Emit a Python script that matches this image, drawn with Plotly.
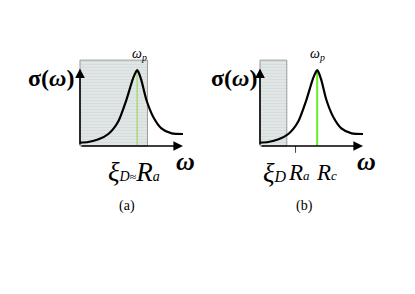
import plotly.graph_objects as go

# ---- data (x in arbitrary frequency units, y normalised) ----
curve_x = [0.0, 0.8, 1.8, 2.75, 3.7, 4.5, 5.15, 5.45, 5.55, 5.65, 5.95, 6.45, 7.1, 7.9, 8.9, 10.0]
curve_y = [0.045, 0.053, 0.088, 0.158, 0.32, 0.605, 0.89, 0.98, 1.0, 0.98, 0.87, 0.605, 0.386, 0.233, 0.167, 0.158]
peak_x = 5.55
shade_end = {"a": 6.55, "b": 2.6}
shade_top = 1.13
tick_Ra_b = 3.45
panel_labels = ["(a)", "(b)"]

FONT = "Liberation Serif, DejaVu Serif, serif"
W, H = 415, 294
fig = go.Figure()


def px(xp, yp):
    return xp / W, 1 - yp / H


def text(xp, yp, t, size, **kw):
    x, y = px(xp, yp)
    fig.add_annotation(x=x, y=y, xref="paper", yref="paper", showarrow=False, text=t,
                       xanchor="center", yanchor="middle",
                       font=dict(family=FONT, size=size, color="black"), **kw)


panels = [("a", "x", "y", [0.18036, 0.45337]), ("b", "x2", "y2", [0.6141, 0.8871])]
for key, xa, ya, dom in panels:
    # shaded region
    fig.add_trace(go.Scatter(
        x=[0, shade_end[key], shade_end[key], 0, 0], y=[0, 0, shade_top, shade_top, 0],
        fill="toself", mode="lines", line=dict(color="#9a9a9a", width=1),
        fillcolor="#dde2e2",
        fillpattern=dict(shape="-", bgcolor="#e0e5e5", fgcolor="#cdd3d3", size=3, solidity=0.3),
        xaxis=xa, yaxis=ya, showlegend=False, hoverinfo="skip"))
    # green line at peak
    fig.add_trace(go.Scatter(
        x=[peak_x, peak_x], y=[0, 1.0], mode="lines",
        line=dict(color="#a8dc80" if key == "a" else "#66ee22", width=1.6 if key == "a" else 2),
        xaxis=xa, yaxis=ya, showlegend=False, hoverinfo="skip"))
    # curve
    fig.add_trace(go.Scatter(
        x=curve_x, y=curve_y, mode="lines", line=dict(color="black", width=2.2, shape="spline", smoothing=0.7),
        xaxis=xa, yaxis=ya, showlegend=False, hoverinfo="skip"))
    # axes arrows
    for (x1, y1) in [(10.0, 0), (0, 1.02)]:
        fig.add_annotation(x=x1, y=y1, ax=0, ay=0, xref=xa, yref=ya, axref=xa, ayref=ya,
                           text="", showarrow=True, arrowhead=2, arrowsize=1.2, arrowwidth=1.6,
                           arrowcolor="black")
    fig.update_layout(**{
        ("xaxis" if xa == "x" else "xaxis2"): dict(domain=dom, range=[-0.5, 10.5], visible=False, fixedrange=True),
        ("yaxis" if ya == "y" else "yaxis2"): dict(domain=[0.4646, 0.8265], range=[-0.15, 1.25], visible=False, fixedrange=True),
    })

# tick for R_a in panel b
fig.add_trace(go.Scatter(x=[tick_Ra_b, tick_Ra_b], y=[0, -0.09], mode="lines",
                         line=dict(color="#444", width=1), xaxis="x2", yaxis="y2",
                         showlegend=False, hoverinfo="skip"))

# labels (pixel positions of label centres)
for cx in (51, 234):
    text(cx, 78, "<b>σ(<i>ω</i>)</b>", 24)
for cx in (139, 317):
    text(cx, 55, "<i>ω<sub>p</sub></i>", 14)
for cx in (185, 366):
    text(cx, 161, "<b><i>ω</i></b>", 26)
text(134, 172, "<i>ξ<span style='font-size:14px'>D</span></i>"
               "<span style='font-size:12px'>≈</span><i>R<span style='font-size:14px'>a</span></i>", 27)
text(275, 173, "<i>ξ<span style='font-size:16px'>D</span></i>", 27)
text(299, 172, "<i>R<span style='font-size:13px'>a</span></i>", 23)
text(326, 172, "<i>R<span style='font-size:13px'>c</span></i>", 23)
text(127, 206, panel_labels[0], 14)
text(304, 206, panel_labels[1], 14)

fig.update_layout(width=W, height=H, margin=dict(l=0, r=0, t=0, b=0),
                  paper_bgcolor="white", plot_bgcolor="rgba(0,0,0,0)", showlegend=False)
fig.write_html("out.html", config={"displayModeBar": False},
               post_script="document.body.style.margin='0';document.body.style.overflow='hidden';")
